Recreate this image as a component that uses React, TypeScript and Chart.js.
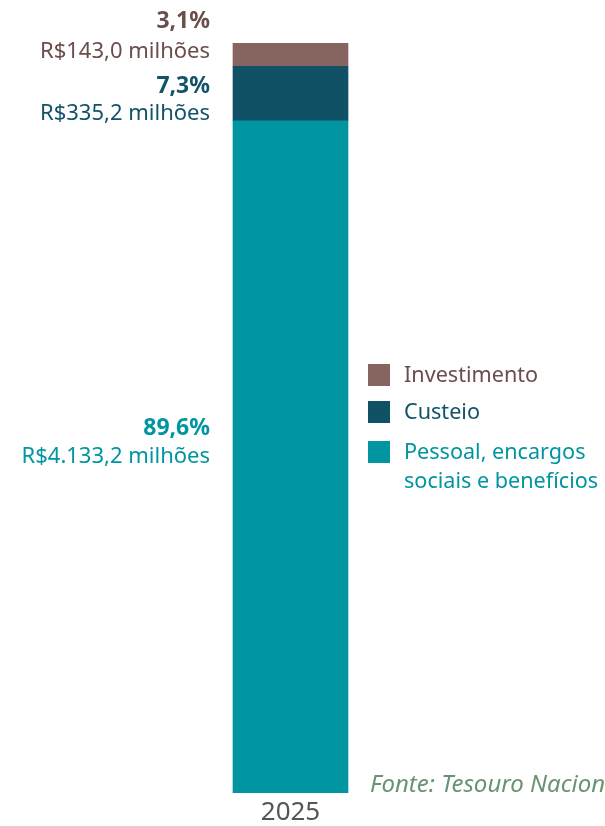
import React, { useEffect, useRef } from "react";
import { Chart, registerables } from "chart.js";

Chart.register(...registerables);

const categories = ["2025"];
const seriesNames = ["Pessoal, encargos sociais e benefícios", "Custeio", "Investimento"];
const legendLines = [["Pessoal, encargos", "sociais e benefícios"], ["Custeio"], ["Investimento"]];
const pessoalValues = [4133.2];
const custeioValues = [335.2];
const investimentoValues = [143.0];
const percentLabels = ["89,6%", "7,3%", "3,1%"];
const valueLabels = ["R$4.133,2 milhões", "R$335,2 milhões", "R$143,0 milhões"];
const sourceText = "Fonte: Tesouro Nacional";

const barColors = ["#0095a0", "#115166", "#866561"];
const textColors = ["#0095a0", "#12536a", "#6b4d4b"];
const FONT = "'Noto Sans', 'Open Sans', sans-serif";
// vertical offset of the value line from the segment centre, and gap to the percent line
const labelOffsets = [0, 20, -3];
const percentGaps = [28, 27, 30];

const labelsPlugin = {
  id: "customLabels",
  afterDatasetsDraw(chart: any) {
    const ctx = chart.ctx;
    ctx.save();
    chart.data.datasets.forEach((ds: any, i: number) => {
      const meta = chart.getDatasetMeta(i);
      const el = meta.data[0];
      if (!el) return;
      const center = (el.y + el.base) / 2;
      const vy = center + labelOffsets[i];
      ctx.textAlign = "right";
      ctx.textBaseline = "middle";
      ctx.fillStyle = textColors[i];
      ctx.font = `bold 23px ${FONT}`;
      ctx.fillText(percentLabels[i], 210, vy - percentGaps[i]);
      ctx.font = `22px ${FONT}`;
      ctx.fillText(valueLabels[i], 210, vy);
    });
    const legendY = [453, 413, 376];
    for (let i = 0; i < legendLines.length; i++) {
      const y = legendY[i];
      ctx.fillStyle = barColors[i];
      ctx.fillRect(368, y - 12, 22, 22);
      ctx.fillStyle = textColors[i];
      ctx.font = `21.6px ${FONT}`;
      ctx.textAlign = "left";
      ctx.textBaseline = "middle";
      legendLines[i].forEach((line, j) => {
        ctx.fillText(line, 404, y + j * 29);
      });
    }
    ctx.font = `italic 24px ${FONT}`;
    ctx.fillStyle = "#6a9374";
    ctx.textAlign = "left";
    ctx.textBaseline = "middle";
    ctx.fillText(sourceText, 370, 785);
    ctx.restore();
  },
};

export default function App() {
  const ref = useRef<HTMLCanvasElement | null>(null);
  useEffect(() => {
    document.body.style.margin = "0";
    const total = pessoalValues[0] + custeioValues[0] + investimentoValues[0];
    const chart = new Chart(ref.current as HTMLCanvasElement, {
      type: "bar",
      data: {
        labels: categories,
        datasets: [
          { label: seriesNames[0], data: pessoalValues, backgroundColor: barColors[0] },
          { label: seriesNames[1], data: custeioValues, backgroundColor: barColors[1] },
          { label: seriesNames[2], data: investimentoValues, backgroundColor: barColors[2] },
        ],
      },
      options: {
        responsive: false,
        animation: false,
        layout: { padding: { left: 0, right: 24, top: 43, bottom: 0 } },
        datasets: { bar: { barThickness: 115 } },
        plugins: { legend: { display: false }, tooltip: { enabled: false } },
        scales: {
          x: {
            stacked: true,
            grid: { display: false, drawTicks: false },
            border: { display: false },
            ticks: { color: "#555555", font: { family: FONT, size: 26, lineHeight: 0.785 }, padding: 9 },
            afterFit: (scale: any) => {
              scale.height = 33;
            },
          },
          y: { stacked: true, display: false, min: 0, max: total },
        },
      },
      plugins: [labelsPlugin],
    });
    return () => chart.destroy();
  }, []);
  return (
    <div style={{ position: "absolute", left: 0, top: 0, width: 605, height: 826, background: "#fff" }}>
      <canvas ref={ref} width={605} height={826} style={{ width: 605, height: 826 }} />
    </div>
  );
}
